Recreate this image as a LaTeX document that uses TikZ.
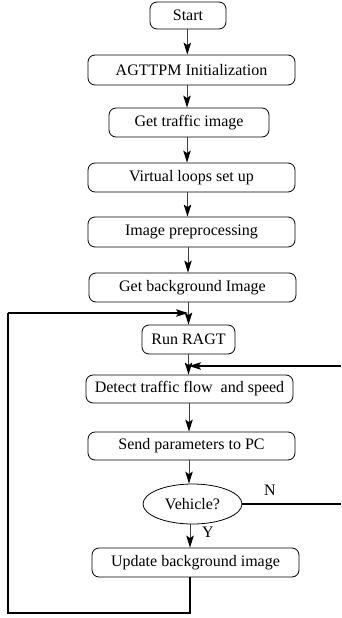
\documentclass[tikz,border=0pt]{standalone}
\usepackage{fontspec}
\setmainfont{Liberation Serif}
\usetikzlibrary{arrows.meta,shapes.geometric}
\tikzset{
  stepbox/.style={draw, line width=0.8pt, rounded corners=7pt, align=center,
    inner sep=0pt, font=\fontsize{16}{19}\selectfont},
  decision/.style={draw, ellipse, line width=0.8pt, inner sep=0pt,
    font=\fontsize{16}{19}\selectfont},
  arr/.style={draw=black!75, line width=1pt,
    -{Stealth[length=12pt,width=7.5pt,inset=2.5pt,color=black]}},
  loopline/.style={draw=black, line width=1.4pt},
  lbl/.style={font=\fontsize{16}{19}\selectfont, inner sep=0pt}
}
\begin{document}
\begin{tikzpicture}[x=1pt,y=-1pt]
\useasboundingbox (0,0) rectangle (341,618);

% process steps
\node[stepbox, minimum width=76pt,  minimum height=27pt] (start)  at (188,15.5)   {Start};
\node[stepbox, minimum width=207pt, minimum height=30pt] (init)   at (191.5,70)   {AGTTPM Initialization};
\node[stepbox, minimum width=160pt, minimum height=29pt] (get)    at (189,122.5)  {Get traffic image};
\node[stepbox, minimum width=207pt, minimum height=29pt] (virt)   at (191.5,177.5){Virtual loops set up};
\node[stepbox, minimum width=207pt, minimum height=30pt] (pre)    at (191.5,232)  {Image preprocessing};
\node[stepbox, minimum width=207pt, minimum height=29pt] (bg)     at (192.5,287.5){Get background Image};
\node[stepbox, minimum width=93pt,  minimum height=29pt] (ragt)   at (188.5,339.5){Run RAGT};
\node[stepbox, minimum width=207pt, minimum height=28pt] (detect) at (189.5,389)  {Detect traffic flow\ \ and speed};
\node[stepbox, minimum width=207pt, minimum height=28pt] (send)   at (191.5,446)  {Send parameters to PC};
\node[decision, minimum width=99pt, minimum height=40pt] (veh)    at (192.5,504)  {Vehicle?};
\node[stepbox, minimum width=207pt, minimum height=29pt] (upd)    at (195.5,562.5){Update background image};

% branch labels
\node[lbl] (nlab) at (270,490) {N};
\node[lbl] (ylab) at (208,532) {Y};

% columns of the vertical arrows
\coordinate (k1) at (187.3,0);
\coordinate (k2) at (187,0);
\coordinate (k3) at (187.5,0);
\coordinate (k4) at (188,0);
\coordinate (k5) at (188.5,0);
\coordinate (k6) at (189,0);
\coordinate (k7) at (190,0);

% main flow
\draw[arr] (start.south -| k1) -- (init.north -| k1);
\draw[arr] (init.south -| k2) -- (get.north -| k2);
\draw[arr] (get.south -| k2) -- (virt.north -| k2);
\draw[arr] (virt.south -| k3) -- (pre.north -| k3);
\draw[arr] (pre.south -| k4) -- (bg.north -| k4);
\draw[arr] (bg.south -| k5) -- (ragt.north -| k5);
\draw[arr] (ragt.south -| k5) -- (detect.north -| k5);
\draw[arr] (detect.south -| k6) -- (send.north -| k6);
\draw[arr] (send.south -| k6) -- (veh.north -| k6);
\draw[arr] (veh.south -| k7) -- (upd.north -| k7);

% feedback loop back to Run RAGT
\coordinate (loopbot) at (190,613);
\coordinate (loopleft) at (8,613);
\coordinate (looptop) at (8,313);
\coordinate (loopin) at (188,313);
\draw[loopline] (upd.south -| k7) -- (loopbot) -- (loopleft) -- (looptop);
\draw[loopline, -{Stealth[length=12pt,width=7.5pt,inset=2.5pt]}] (looptop) -- (loopin);

% "N" branch leaving to the right, and its return into the detection step
\coordinate (rightedge) at (341,0);
\coordinate (nret) at (341,366);
\coordinate (nin) at (189,366);
\draw[loopline] (veh.east) -- (veh.east -| rightedge);
\draw[loopline, -{Stealth[length=12pt,width=7.5pt,inset=2.5pt]}] (nret) -- (nin);
\end{tikzpicture}
\end{document}
